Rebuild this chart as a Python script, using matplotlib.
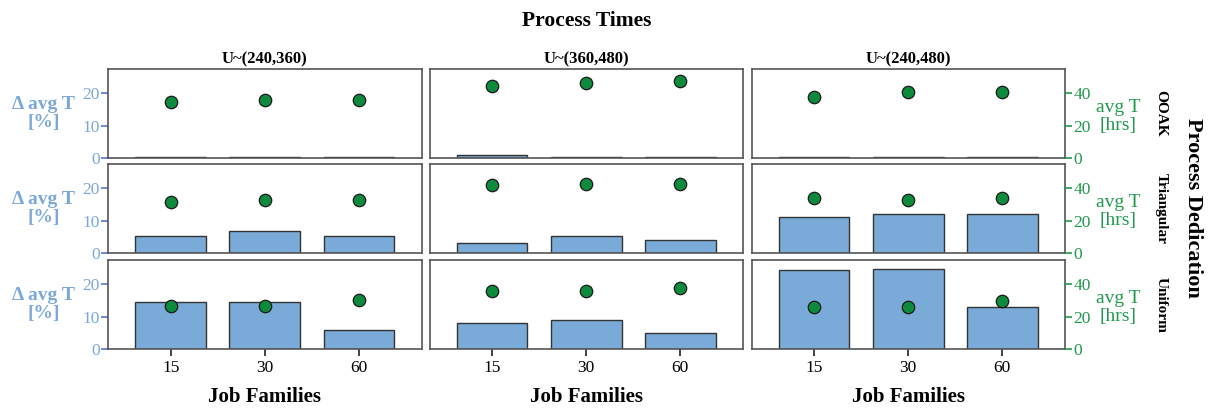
import matplotlib
matplotlib.use("Agg")
import matplotlib.pyplot as plt
import numpy as np

plt.rcParams["font.family"] = ["Liberation Serif", "DejaVu Serif"]

families = ["15", "30", "60"]
columns = ["U~(240,360)", "U~(360,480)", "U~(240,480)"]
rows = ["OOAK", "Triangular", "Uniform"]

# relative change in average time [%], rows x columns x job families
delta_avg_t = [
    [[0.3, 0.2, 0.2], [0.8, 0.2, 0.2], [0.2, 0.2, 0.2]],
    [[5.1, 6.9, 5.4], [3.2, 5.3, 4.1], [11.2, 12.1, 12.1]],
    [[14.5, 14.5, 5.9], [8.1, 8.9, 4.9], [24.4, 24.8, 13.1]],
]
# average time [hrs]
avg_t = [
    [[34.9, 35.9, 35.9], [44.8, 46.6, 47.7], [37.8, 40.7, 40.7]],
    [[31.7, 32.9, 32.9], [41.9, 42.9, 42.9], [33.9, 32.7, 33.9]],
    [[26.8, 26.8, 30.2], [35.9, 35.9, 38.0], [25.8, 25.8, 29.9]],
]

bar_color = "#7aaad8"
left_color = "#7ba7d9"
left_tick = "#5577cc"
green = "#0e8a3c"
right_color = "#1f9a4c"

W, H = 1211, 408
fig = plt.figure(figsize=(W / 100, H / 100), dpi=100)

lefts = [108, 429.5, 751.5]
tops = [69, 164, 260]
pw, ph = 313.5, 89

x = np.arange(len(families))
for r in range(3):
    for c in range(3):
        ax = fig.add_axes([lefts[c] / W, 1 - (tops[r] + ph) / H, pw / W, ph / H])
        ax.bar(x, delta_avg_t[r][c], width=0.75, color=bar_color,
               edgecolor="#333333", linewidth=1.0, zorder=2)
        ax.set_xlim(-0.667, 2.667)
        ax.set_ylim(0, 27.5)
        for s in ax.spines.values():
            s.set_color("#555555")
            s.set_linewidth(1.2)

        ax2 = ax.twinx()
        ax2.scatter(x, avg_t[r][c], s=80, color=green, edgecolor="#1a1a1a",
                    linewidth=0.9, zorder=3)
        ax2.set_ylim(0, 55)
        for s in ax2.spines.values():
            s.set_visible(False)

        # left axis only on the first column
        if c == 0:
            ax.set_yticks([0, 10, 20])
            ax.tick_params(axis="y", colors=left_tick, labelcolor=left_color,
                           labelsize=12.5, length=5, width=1.2, pad=1)
            ax.set_ylabel("Δ avg T\n[%]", color=left_color, fontsize=14,
                          fontweight="bold", rotation=0, ha="center",
                          va="center", linespacing=1.1)
            ax.yaxis.set_label_coords(-0.206, 0.5)
        else:
            ax.set_yticks([])

        # right axis only on the last column
        if c == 2:
            ax2.set_yticks([0, 20, 40])
            ax2.tick_params(axis="y", colors=right_color, labelcolor=right_color,
                            labelsize=12.5, length=5, width=1.2, pad=1)
            ax2.set_ylabel("avg T\n[hrs]", color=right_color, fontsize=14,
                           rotation=0, ha="center", va="center",
                           linespacing=1.1)
            ax2.yaxis.set_label_coords(1.169, 0.47)
            ax2.text(1.306, 0.5, rows[r], transform=ax.transAxes, rotation=-90,
                     fontsize=11, fontweight="bold", ha="center", va="center")
        else:
            ax2.set_yticks([])

        if r == 2:
            ax.set_xticks(x)
            ax.set_xticklabels(families)
            ax.tick_params(axis="x", labelsize=12.5, length=5, width=1.2,
                           color="#222222", pad=3)
            ax.set_xlabel("Job Families", fontsize=15, fontweight="bold",
                          labelpad=8)
        else:
            ax.set_xticks([])

        if r == 0:
            ax.set_title(columns[c], fontsize=12, fontweight="bold", pad=4)

fig.text(587 / W, 1 - 20.5 / H, "Process Times", fontsize=15.5,
         fontweight="bold", ha="center", va="center")
fig.text(1193 / W, 1 - 208 / H, "Process Dedication", fontsize=16,
         fontweight="bold", rotation=-90, ha="center", va="center")

fig.savefig("out.png", dpi=100)
